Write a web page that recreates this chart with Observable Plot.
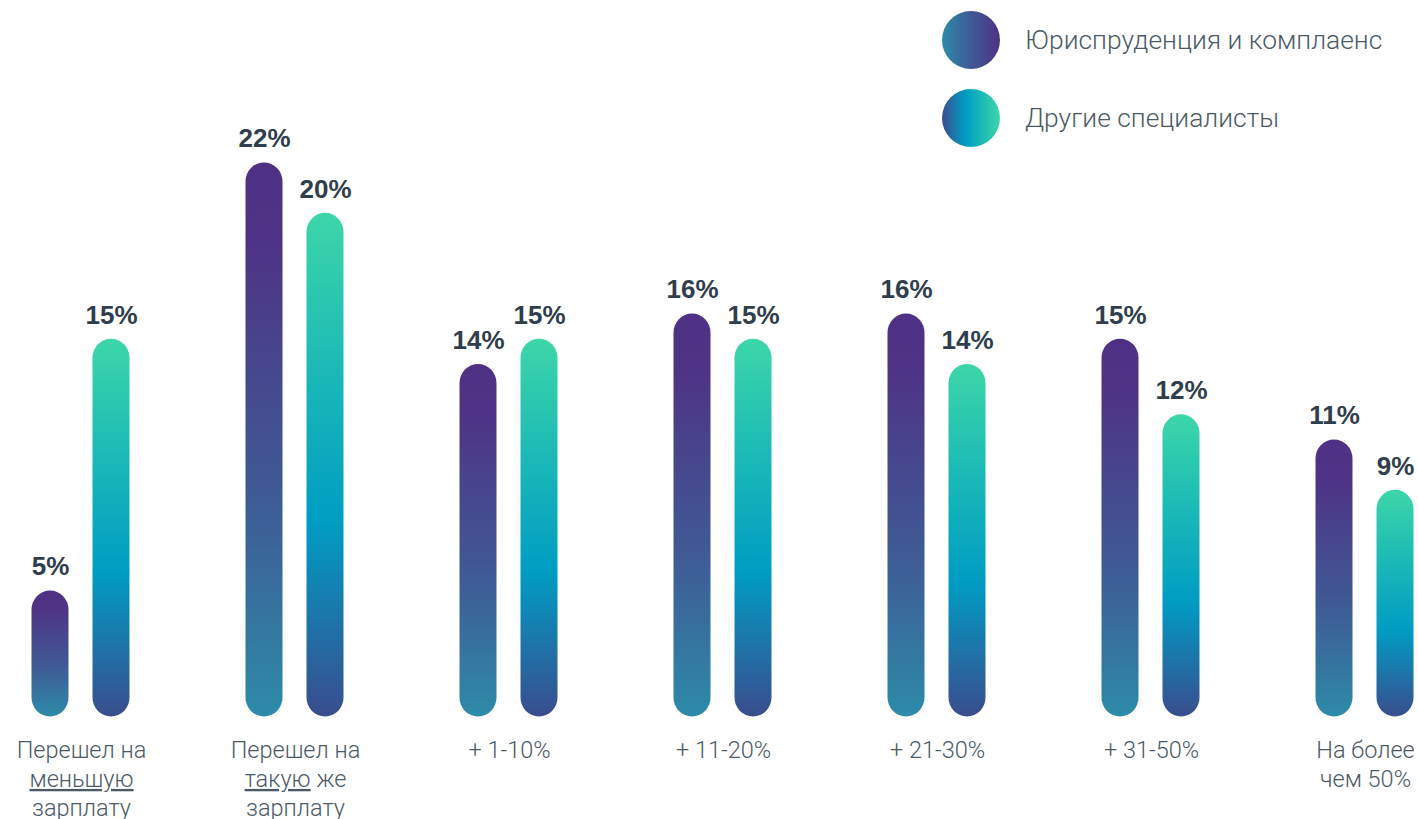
<!DOCTYPE html>
<html>
<head>
<meta charset="utf-8">
<script src="https://cdn.jsdelivr.net/npm/d3@7"></script>
<script src="https://cdn.jsdelivr.net/npm/@observablehq/plot@0.6"></script>
<style>
  html, body { margin: 0; padding: 0; background: #fff; }
  #wrap { position: relative; width: 1418px; height: 819px; overflow: hidden; }
  #legend { position: absolute; left: 942px; top: 11px; font-family: Roboto, "Liberation Sans", sans-serif; font-weight: 300; }
  .item { display: flex; align-items: center; height: 58px; margin-bottom: 20px; }
  .sw { width: 58px; height: 58px; border-radius: 50%; flex: none; }
  .lab { margin-left: 25px; font-size: 26.4px; color: #4b5a66; white-space: nowrap; }
</style>
</head>
<body>
<div id="wrap"><div id="legend"></div></div>
<script>
const categories = ["Перешел на\nменьшую\nзарплату", "Перешел на\nтакую же\nзарплату", "+ 1-10%", "+ 11-20%", "+ 21-30%", "+ 31-50%", "На более\nчем 50%"];
const series = ["Юриспруденция и комплаенс", "Другие специалисты"];
const lawValues = [5, 22, 14, 16, 16, 15, 11];
const otherValues = [15, 20, 15, 15, 14, 12, 9];
const underlined = ["меньшую", "такую"];

const gradients = [
  {id: "gLaw", stops: [[0, "#4e3184"], [0.15, "#4e3486"], [0.6, "#3f5a95"], [1, "#2d8ba9"]],
   legend: "linear-gradient(to right, #2d8ba9, #3f5a95 50%, #4e3184)"},
  {id: "gOther", stops: [[0, "#3dd6a8"], [0.3, "#1cbbb6"], [0.62, "#009cc3"], [1, "#3a4d8e"]],
   legend: "linear-gradient(to right, #3a4d8e, #009cc3 40%, #1cbbb6 70%, #3dd6a8)"}
];

const data = categories.flatMap((c, i) => [
  {category: c, series: series[0], value: lawValues[i]},
  {category: c, series: series[1], value: otherValues[i]}
]);

const font = "Roboto, 'Liberation Sans', sans-serif";

const plot = Plot.plot({
  width: 1418,
  height: 819,
  marginLeft: 29.5,
  marginRight: 1.5,
  marginTop: 0,
  marginBottom: 102,
  style: {background: "white", fontFamily: font},
  fx: {domain: categories, paddingInner: 0.5338, paddingOuter: 0, axis: null},
  x: {domain: series, paddingInner: 0.387, paddingOuter: 0, axis: null},
  y: {domain: [0, 22], range: [716.5, 162.5], axis: null},
  marks: [
    Plot.barY(data.filter(d => d.series === series[0]), {fx: "category", x: "series", y: "value", fill: "url(#gLaw)", rx: 19}),
    Plot.barY(data.filter(d => d.series === series[1]), {fx: "category", x: "series", y: "value", fill: "url(#gOther)", rx: 19}),
    Plot.text(data, {fx: "category", x: "series", y: "value", text: d => d.value + "%", dy: -24,
      fontSize: 26, fontWeight: "bold", fill: "#2f3d4c", fontFamily: "'Liberation Sans', Arial, sans-serif"}),
    Plot.text(categories, {fx: d => d, text: d => d, frameAnchor: "bottom", lineAnchor: "top", dy: 20,
      fontSize: 23.5, fontWeight: 300, lineHeight: 1.23, fill: "#4b5a66"})
  ]
});

const svg = d3.select(plot);
const defs = svg.insert("defs", ":first-child");
for (const g of gradients) {
  const lg = defs.append("linearGradient").attr("id", g.id)
    .attr("x1", 0).attr("y1", 0).attr("x2", 0).attr("y2", 1);
  for (const [o, c] of g.stops) lg.append("stop").attr("offset", o).attr("stop-color", c);
}

svg.selectAll("tspan").each(function() {
  const t = this.textContent;
  for (const w of underlined) {
    const i = t.indexOf(w);
    if (i >= 0) {
      const sel = d3.select(this);
      sel.text(null);
      if (i > 0) sel.append("tspan").text(t.slice(0, i));
      sel.append("tspan").attr("text-decoration", "underline").style("text-decoration", "underline").text(w);
      if (i + w.length < t.length) sel.append("tspan").text(t.slice(i + w.length));
      break;
    }
  }
});

document.getElementById("wrap").prepend(plot);

const legend = d3.select("#legend");
series.forEach((s, i) => {
  const it = legend.append("div").attr("class", "item");
  it.append("div").attr("class", "sw").style("background", gradients[i].legend);
  it.append("div").attr("class", "lab").text(s);
});
</script>
</body>
</html>
